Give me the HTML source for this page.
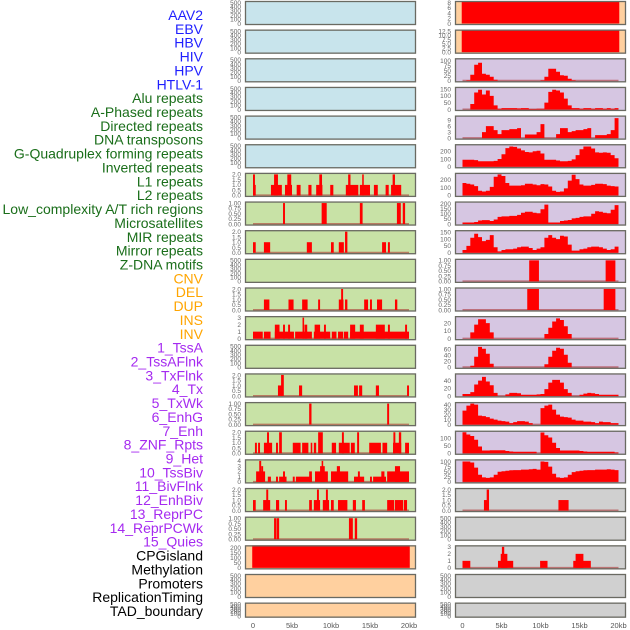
<!DOCTYPE html>
<html><head><meta charset="utf-8"><style>
html,body{margin:0;padding:0;background:#fff;}
svg{display:block;font-family:"Liberation Sans",sans-serif;}
</style></head><body>
<svg id="chart" width="630" height="630" viewBox="0 0 630 630" xmlns="http://www.w3.org/2000/svg"></svg>
<script>
// ---- Row labels ----
const labelTexts = ["AAV2","EBV","HBV","HIV","HPV","HTLV-1",
"Alu repeats","A-Phased repeats","Directed repeats","DNA transposons","G-Quadruplex forming repeats","Inverted repeats","L1 repeats","L2 repeats","Low_complexity A/T rich regions","Microsatellites","MIR repeats","Mirror repeats","Z-DNA motifs",
"CNV","DEL","DUP","INS","INV",
"1_TssA","2_TssAFlnk","3_TxFlnk","4_Tx","5_TxWk","6_EnhG","7_Enh","8_ZNF_Rpts","9_Het","10_TssBiv","11_BivFlnk","12_EnhBiv","13_ReprPC","14_ReprPCWk","15_Quies",
"CPGisland","Methylation","Promoters","ReplicationTiming","TAD_boundary"];
const labelGroups = [6,13,5,15,5];
const groupColors = ["#1f1fff","#1a6e1a","#ffa500","#a52af0","#000000"];

// ---- X axis ----
const xTickValues = [0,5,10,15,20];
const xTickLabels = ["0","5kb","10kb","15kb","20kb"];

// ---- Left column tracks: segments [startKb,endKb,value] ----
const L6 = [[0,0.35,1],[0,0.25,2],[2.3,3.7,1],[2.7,3.2,2],[4.1,5.0,1],[4.4,4.9,2],[5.6,6.1,1],[7.1,7.5,1],[8.1,8.9,1],[8.5,8.85,2],[9.9,10.3,1],[11.9,13.5,1],[12.2,12.5,2],[13.7,15.0,1],[14.0,14.2,2],[15.5,16.0,1],[17.0,17.4,1],[17.7,19.0,1],[17.9,18.2,2]];
const L7 = [[3.85,4.1,1],[8.8,9.45,1],[13.7,14.05,1],[18.45,18.95,1],[19.2,19.5,1]];
const L8 = [[0,0.35,1],[1.4,2.2,1],[6.9,7.55,1],[10.0,10.35,1],[11.0,11.65,1],[11.8,12.1,2],[16.55,17.05,1],[17.3,17.55,1]];
const L10 = [[1.4,2.1,1],[4.55,5.2,1],[6.3,7.0,1],[8.35,8.6,1],[11.0,11.6,1],[11.3,11.55,2],[11.8,12.1,1],[14.25,14.75,1],[15.0,15.25,1],[15.9,16.55,1],[18.2,18.5,1]];
const L11 = [[0,1.25,1],[1.4,2.25,1],[2.8,5.25,1],[2.8,3.4,2],[3.85,4.1,2],[4.5,4.75,2],[5.4,7.55,1],[6.35,6.55,3],[6.6,6.95,2],[7.8,9.9,1],[7.9,8.6,2],[9.1,9.35,2],[10.1,10.7,1],[10.9,11.55,1],[11.65,12.2,1],[12.45,20,1],[12.45,13.1,2],[13.7,14.2,2],[15.75,16.9,2],[17.3,17.55,2],[19.5,19.75,2]];
const L13 = [[3.2,3.75,1],[3.6,3.95,2],[5.9,6.3,1],[12.95,13.45,1],[13.6,14.0,1],[15.75,16.15,1],[19.75,20,1]];
const L14 = [[7.2,7.5,1],[17.2,17.45,1]];
const L15 = [[0.25,0.5,1],[0.65,0.9,1],[1.4,2.45,1],[1.8,2.05,2],[2.95,3.2,1],[3.35,3.7,2],[5.1,6.1,1],[6.3,7.1,1],[7.4,7.6,1],[7.8,8.1,1],[8.35,8.95,2],[10.1,10.65,1],[11.0,12.4,1],[11.4,11.65,2],[12.55,13.05,1],[13.35,13.6,2],[14.9,16.4,1],[16.6,17.2,1],[17.95,19.0,1],[18.0,18.25,2],[18.7,19.0,2],[19.5,20,1]];
const L16 = [[0.4,1.55,2],[0.8,1.05,4],[1.05,1.3,3],[1.9,2.3,1],[2.95,3.2,1],[3.35,4.3,1],[3.85,4.1,2],[5.1,5.35,1],[5.5,7.55,1],[7.2,7.55,2],[7.95,9.6,2],[8.6,9.2,3],[8.8,9.0,4],[10.0,12.2,2],[10.75,11.15,3],[12.95,14.25,1],[13.45,13.7,2],[15.0,15.25,1],[15.4,17.05,1],[16.45,16.85,2],[17.2,20,2],[18.2,18.85,3]];
const L17 = [[0,0.35,1],[1.3,2.2,1],[1.7,1.95,2],[2.95,3.35,1],[4.1,4.35,1],[7.2,7.55,1],[7.8,8.6,1],[8.2,8.45,2],[8.95,9.75,1],[9.35,9.6,2],[10.0,10.35,1],[10.9,12.1,1],[12.8,13.2,1],[14.0,14.35,1],[17.2,18.1,1],[18.2,19.25,1],[19.35,19.75,1]];
const L18 = [[2.7,3.0,1],[3.05,3.35,1],[12.3,12.8,1],[13.05,13.35,1]];
const L19 = [[-0.1,20.1,250]];

// ---- Right column: segment tracks ----
const R0 = [[-0.1,20.1,20]];
const R1 = [[-0.1,20.1,20]];
const R9 = [[8.55,9.8,1],[18.35,19.6,1]];
const R10 = [[8.3,9.8,1],[18.1,19.6,1]];
const R17 = [[2.75,3.4,1],[3.1,3.4,2],[12.3,13.6,1]];
const R19 = [[0,1.0,1],[4.55,6.5,1],[4.9,5.75,2],[5.05,5.35,3],[9.95,10.9,1],[14.2,16.45,1],[14.5,15.5,2]];

// ---- Right column: binned profiles (40 bins x 0.5kb) ----
const R2 = [0,3,30,80,90,35,30,20,5,0,0,0,0,0,0,0,0,0,0,0,3,20,60,60,45,28,25,10,3,0,0,0,0,0,0,0,0,0,0,0];
const R3 = [0,0,40,125,145,110,140,100,30,5,10,10,10,10,8,10,10,3,3,5,5,50,130,145,140,125,80,30,10,10,5,10,10,5,10,10,5,10,5,10];
const R4 = [0,0,0,0,0,3,6,6,4,2,4,4,4.5,4.5,5,0,1.8,1.8,1.8,3,7,0,0,0,2,5,5,3,3.5,4,4,4.5,5,0,1.5,1.5,1.5,2,4,10];
const R5 = [90,90,90,85,70,70,70,70,75,100,160,240,260,255,235,210,190,185,200,205,170,90,90,90,80,70,70,75,95,150,225,260,260,235,185,180,185,180,150,110];
const R6 = [160,150,140,120,60,50,60,110,240,270,250,160,125,125,125,130,150,150,140,130,145,140,115,60,45,50,90,190,265,210,140,125,125,135,150,150,145,125,120,115];
const R7 = [15,15,15,20,35,38,38,30,45,70,75,75,80,80,90,110,120,120,110,105,145,190,15,15,15,30,35,40,55,60,70,75,75,100,125,120,110,105,140,185];
const R8 = [20,50,110,140,115,85,95,130,40,10,20,25,25,30,40,45,45,35,20,30,40,110,130,110,100,125,120,60,15,15,25,30,40,45,45,40,30,20,25,45];
const R11 = [0,0,8,18,25,25,20,8,0,0,0,0,0,0,0,0,0,0,0,0,0,6,14,22,26,24,16,6,0,0,0,0,0,0,0,0,0,0,0,0];
const R12 = [0,0,5,35,68,62,45,12,0,0,0,0,0,0,0,0,0,0,0,0,0,10,35,55,65,62,42,15,0,0,0,0,0,0,0,0,0,0,0,0];
const R13 = [5,5,10,30,40,50,38,28,8,0,0,4,8,8,7,3,3,3,3,4,5,18,35,42,42,35,18,8,0,0,3,6,8,7,5,3,3,3,3,3];
const R14 = [28,38,42,40,18,17,15,12,10,8,7,6,3,5,7,7,6,3,0,0,33,38,40,30,20,16,15,14,10,8,8,6,6,5,3,6,5,5,3,3];
const R15 = [140,125,115,90,45,18,18,20,20,20,20,15,12,10,10,10,10,10,10,0,138,120,105,70,35,18,18,18,18,18,15,12,10,10,10,10,10,10,10,5];
const R16 = [100,100,95,70,35,22,20,22,35,50,52,55,57,58,58,60,60,62,64,60,100,98,75,40,22,20,22,35,48,52,55,57,58,58,60,60,60,62,60,58];

// ---- Y axis ticks ----
const T500 = [0,100,200,300,400,500];
const T2 = [0,0.5,1,1.5,2];
const T1 = [0,0.25,0.5,0.75,1];
const T1L = ["0.00","0.25","0.50","0.75","1.00"];
const T2L = ["0.0","0.5","1.0","1.5","2.0"];

const BG = {blue:"#c8e4ec",green:"#c8e2a6",orange:"#ffd09f",purple:"#d6c6e2",gray:"#d0d0d0"};

// left column track config
const leftTracks = [
 {bg:"blue",max:500,ticks:T500},{bg:"blue",max:500,ticks:T500},{bg:"blue",max:500,ticks:T500},
 {bg:"blue",max:500,ticks:T500},{bg:"blue",max:500,ticks:T500},{bg:"blue",max:500,ticks:T500},
 {bg:"green",max:2,ticks:T2,tl:T2L,seg:L6},
 {bg:"green",max:1,ticks:T1,tl:T1L,seg:L7},
 {bg:"green",max:2,ticks:T2,tl:T2L,seg:L8},
 {bg:"green",max:500,ticks:T500},
 {bg:"green",max:2,ticks:T2,tl:T2L,seg:L10},
 {bg:"green",max:3,ticks:[0,1,2,3],seg:L11},
 {bg:"green",max:500,ticks:T500},
 {bg:"green",max:2,ticks:T2,tl:T2L,seg:L13},
 {bg:"green",max:1,ticks:T1,tl:T1L,seg:L14},
 {bg:"green",max:2,ticks:T2,tl:T2L,seg:L15},
 {bg:"green",max:4,ticks:[0,1,2,3,4],seg:L16},
 {bg:"green",max:2,ticks:T2,tl:T2L,seg:L17},
 {bg:"green",max:1,ticks:T1,tl:T1L,seg:L18},
 {bg:"orange",max:210,ticks:[0,50,100,150,200],seg:L19,nobase:true},
 {bg:"orange",max:500,ticks:T500},
 {bg:"orange",max:500,ticks:T500}
];
const rightTracks = [
 {bg:"orange",max:8,ticks:[0,2,4,6,8],seg:R0,nobase:true},
 {bg:"orange",max:12.5,ticks:[0,2.5,5,7.5,10,12.5],tl:["0.0","2.5","5.0","7.5","10.0","12.5"],seg:R1,nobase:true},
 {bg:"purple",max:105,ticks:[0,25,50,75,100],bins:R2},
 {bg:"purple",max:155,ticks:[0,50,100,150],bins:R3},
 {bg:"purple",max:10.5,ticks:[0,3,6,9],bins:R4},
 {bg:"purple",max:270,ticks:[0,100,200],bins:R5},
 {bg:"purple",max:270,ticks:[0,100,200],bins:R6},
 {bg:"purple",max:205,ticks:[0,50,100,150,200],bins:R7},
 {bg:"purple",max:155,ticks:[0,50,100,150],bins:R8},
 {bg:"purple",max:1,ticks:T1,tl:T1L,seg:R9},
 {bg:"purple",max:1,ticks:T1,tl:T1L,seg:R10},
 {bg:"purple",max:27,ticks:[0,10,20],bins:R11},
 {bg:"purple",max:70,ticks:[0,20,40,60],bins:R12},
 {bg:"purple",max:55,ticks:[0,20,40],bins:R13},
 {bg:"purple",max:42,ticks:[0,10,20,30,40],bins:R14},
 {bg:"purple",max:140,ticks:[0,50,100],bins:R15},
 {bg:"purple",max:103,ticks:[0,25,50,75,100],bins:R16},
 {bg:"gray",max:2,ticks:T2,tl:T2L,seg:R17},
 {bg:"gray",max:500,ticks:T500},
 {bg:"gray",max:3,ticks:[0,1,2,3],seg:R19},
 {bg:"gray",max:500,ticks:T500},
 {bg:"gray",max:500,ticks:T500}
];

const NS = "http://www.w3.org/2000/svg";
const svg = document.getElementById("chart");
function mk(tag, attrs, parent){
  const e = document.createElementNS(NS, tag);
  for (const k in attrs) e.setAttribute(k, attrs[k]);
  (parent||svg).appendChild(e);
  return e;
}

// labels
let li = 0;
labelGroups.forEach((n, g) => {
  for (let k = 0; k < n; k++) {
    const t = mk("text", {x:203, y:(20 + li*13.86).toFixed(1), "text-anchor":"end", "font-size":"14", fill:groupColors[g]});
    
    
    t.textContent = labelTexts[li];
    li++;
  }
});

const cols = [
 {name:"left", px0:245, px1:416, x0:253, x1:409, tickX:241, tracks:leftTracks},
 {name:"right", px0:455, px1:626, x0:462.5, x1:618.5, tickX:451, tracks:rightTracks}
];

cols.forEach(col => {
  const xs = kb => col.x0 + (kb/20)*(col.x1-col.x0);
  col.tracks.forEach((tr, i) => {
    const top = 1 + 28.65*i;
    const h = (i === 21) ? 15 : 24;
    const g = mk("g", {});
    
    
    const clipId = "clip-" + col.name + "-" + i;
    const cp = mk("clipPath", {id:clipId}, g);
    mk("rect", {x:col.px0, y:top, width:col.px1-col.px0, height:h}, cp);
    const bg = mk("rect", {x:col.px0, y:top, width:col.px1-col.px0, height:h, fill:BG[tr.bg]}, g);
    
    
    const yBot = top + h - 1.5, yTop = top + 1.5;
    const ys = v => yBot - (v/tr.max)*(yBot-yTop);
    const dg = mk("g", {"clip-path":"url(#"+clipId+")"}, g);
    const hasData = tr.seg || tr.bins;
    if (hasData && !tr.nobase) {
      const bl = mk("line", {x1:xs(0), x2:xs(20), y1:ys(0), y2:ys(0), stroke:"rgba(170,40,40,0.55)", "stroke-width":"2"}, dg);
      
      
    }
    if (tr.seg) {
      tr.seg.forEach(s => {
        const r = mk("rect", {x:xs(s[0]).toFixed(2), y:ys(s[2]).toFixed(2), width:(xs(s[1])-xs(s[0])).toFixed(2), height:(ys(0)-ys(s[2])).toFixed(2), fill:"#ff0000"}, dg);
        
        
      });
    }
    if (tr.bins) {
      const n = tr.bins.length, w = 20/n;
      let d = "M" + xs(0).toFixed(2) + "," + ys(0).toFixed(2);
      tr.bins.forEach((v, k) => {
        d += " L" + xs(k*w).toFixed(2) + "," + ys(v).toFixed(2) + " L" + xs((k+1)*w).toFixed(2) + "," + ys(v).toFixed(2);
      });
      d += " L" + xs(20).toFixed(2) + "," + ys(0).toFixed(2) + " Z";
      const p = mk("path", {d:d, fill:"#ff0000"}, dg);
      
      
    }
    const border = mk("rect", {x:col.px0+0.5, y:top+0.5, width:col.px1-col.px0-1, height:h-1, fill:"none", stroke:"#6a6a62", "stroke-width":"1.3"}, g);
    
    
    tr.ticks.forEach((tv, k) => {
      const t = mk("text", {x:col.tickX, y:(ys(tv)+2.3).toFixed(2), "text-anchor":"end", "font-size":"6.5", fill:"#666"}, g);
      
      
      t.textContent = tr.tl ? tr.tl[k] : String(tv);
    });
  });
  xTickValues.forEach((v, k) => {
    const t = mk("text", {x:xs(v).toFixed(2), y:628, "text-anchor":"middle", "font-size":"7.5", fill:"#555"});
    
    
    t.textContent = xTickLabels[k];
  });
});
</script>
</body></html>
